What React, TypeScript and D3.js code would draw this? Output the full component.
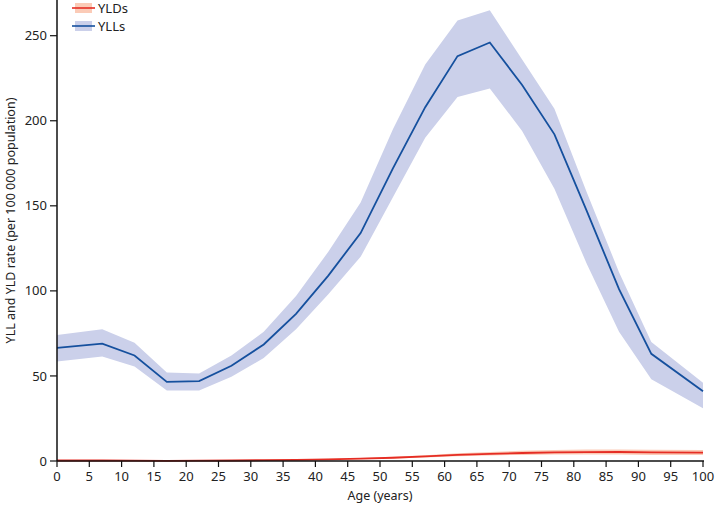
import React from "react";
import * as d3 from "d3";

const ages = [0, 7, 12, 17, 22, 27, 32, 37, 42, 47, 52, 57, 62, 67, 72, 77, 82, 87, 92, 100];
const yllMean = [66.5, 69, 62, 46.5, 47, 56, 68.5, 86.5, 109, 134, 172, 208, 238, 246, 221, 192, 147, 101, 63, 41];
const yllLow = [58.5, 61.5, 55.5, 41.5, 41.5, 49.5, 60.5, 77.5, 98, 120, 155, 190, 214, 219, 194, 160, 116, 76, 48, 31];
const yllHigh = [74, 77.5, 69.5, 52, 51.5, 62, 76, 97, 123, 152, 195, 233, 259, 265, 236, 207, 158, 111, 70, 46];
const yldMean = [0.3, 0.3, 0.2, 0.1, 0.2, 0.3, 0.5, 0.7, 1.0, 1.4, 1.9, 2.7, 3.6, 4.2, 4.7, 5.1, 5.2, 5.3, 5.1, 4.9];
const yldLow = [0.2, 0.2, 0.1, 0.05, 0.1, 0.2, 0.35, 0.5, 0.75, 1.1, 1.5, 2.1, 2.8, 3.3, 3.6, 3.8, 3.8, 3.8, 3.6, 3.5];
const yldHigh = [0.45, 0.45, 0.3, 0.2, 0.3, 0.45, 0.7, 0.95, 1.3, 1.8, 2.5, 3.4, 4.5, 5.3, 6.0, 6.5, 6.7, 6.8, 6.6, 6.4];
const xTicks = d3.range(0, 101, 5);
const yTicks = [0, 50, 100, 150, 200, 250];
const legendItems = ["YLDs", "YLLs"];

const W = 715;
const H = 505;
const FONT = "'Noto Sans', sans-serif";

export default function App() {
  const x = d3.scaleLinear().domain([0, 100]).range([57, 703]);
  const y = d3.scaleLinear().domain([0, 250]).range([461, 35.7]);

  const area = (lo: number[], hi: number[]) =>
    d3
      .area<number>()
      .x((_, i) => x(ages[i]))
      .y0((_, i) => y(lo[i]))
      .y1((_, i) => y(hi[i]))(ages) as string;
  const line = (v: number[]) =>
    d3
      .line<number>()
      .x((_, i) => x(ages[i]))
      .y((_, i) => y(v[i]))(ages) as string;

  const blue = "#15509e";
  const blueBand = "#cbd0ea";
  const red = "#e52d24";
  const redBand = "#fbcbb7";
  const legendColors = [
    { line: red, band: redBand },
    { line: blue, band: blueBand },
  ];

  return (
    <svg
      width={W}
      height={H}
      style={{ position: "absolute", left: 0, top: 0, background: "#fff" }}
      fontFamily={FONT}
    >
      <path d={area(yllLow, yllHigh)} fill={blueBand} />
      <path d={line(yllMean)} fill="none" stroke={blue} strokeWidth={1.8} />
      <path d={area(yldLow, yldHigh)} fill={redBand} />
      <path d={line(yldMean)} fill="none" stroke={red} strokeWidth={1.8} />

      {/* y axis */}
      <line x1={57} x2={57} y1={0} y2={y(0)} stroke="#111" strokeWidth={1.5} />
      {yTicks.map((t) => (
        <g key={t} transform={`translate(0,${y(t)})`}>
          <line x1={50} x2={57} stroke="#111" strokeWidth={1.2} />
          <text x={47} dy="0.35em" textAnchor="end" fontSize={13} fill="#222">
            {t}
          </text>
        </g>
      ))}
      <text
        transform={`translate(15,${y(0) / 2 - 10}) rotate(-90)`}
        textAnchor="middle"
        fontSize={12.5}
        fill="#222"
      >
        YLL and YLD rate (per 100 000 population)
      </text>

      {/* x axis */}
      <line x1={57} x2={x(100) + 1} y1={y(0)} y2={y(0)} stroke="#111" strokeWidth={1.5} />
      {xTicks.map((t) => (
        <g key={t} transform={`translate(${x(t)},${y(0)})`}>
          <line y1={0} y2={6} stroke="#111" strokeWidth={1.2} />
          <text y={15} dy="0.35em" textAnchor="middle" fontSize={13} fill="#222">
            {t}
          </text>
        </g>
      ))}
      <text x={(x(0) + x(100)) / 2} y={500} textAnchor="middle" fontSize={12.5} fill="#222">
        Age (years)
      </text>

      {/* legend */}
      {legendItems.map((name, i) => (
        <g key={name} transform={`translate(75,${8 + i * 18})`}>
          <rect x={0} y={-5} width={17} height={10} fill={legendColors[i].band} />
          <line x1={-3} x2={20} y1={0} y2={0} stroke={legendColors[i].line} strokeWidth={1.6} />
          <text x={23} dy="0.35em" fontSize={13} fill="#222">
            {name}
          </text>
        </g>
      ))}
    </svg>
  );
}
